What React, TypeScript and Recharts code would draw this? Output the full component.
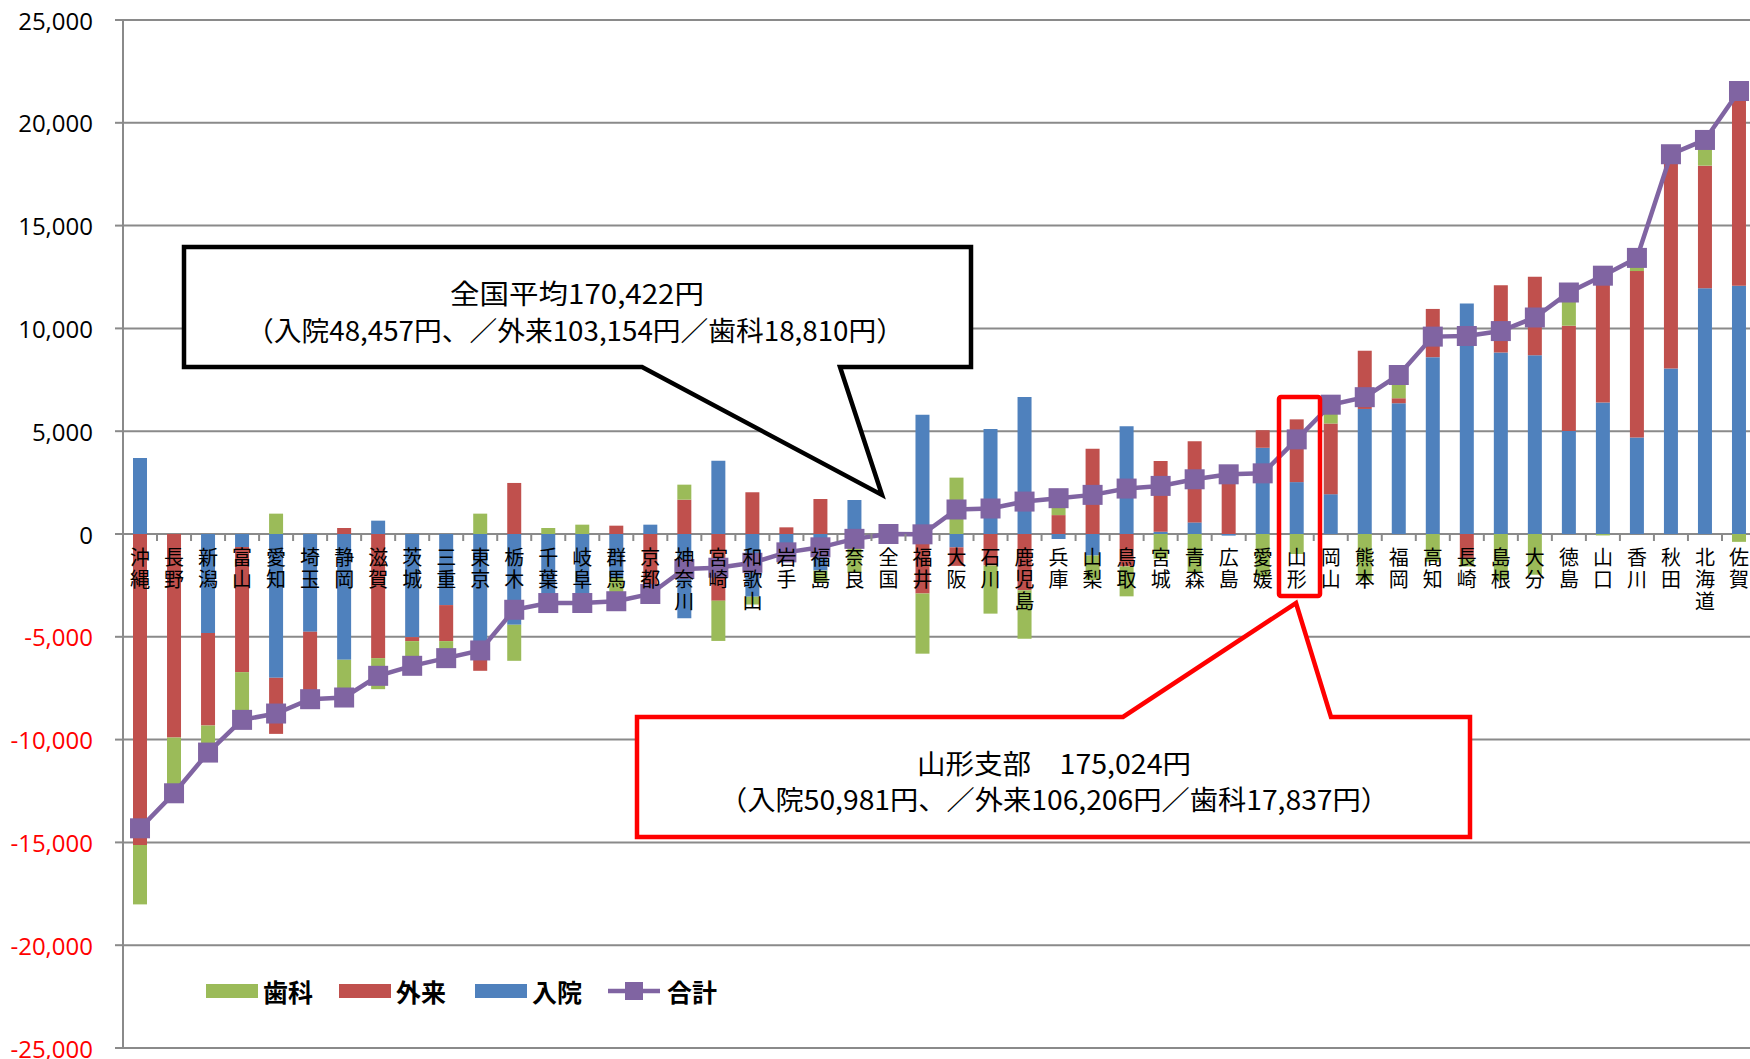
import { ComposedChart, Bar, Line, XAxis, YAxis, CartesianGrid } from 'recharts';

// 都道府県別 一人当たり医療費の全国平均との差（円）
const prefectures = [
  '沖縄', '長野', '新潟', '富山', '愛知', '埼玉', '静岡', '滋賀', '茨城', '三重', '東京', '栃木',
  '千葉', '岐阜', '群馬', '京都', '神奈川', '宮崎', '和歌山', '岩手', '福島', '奈良', '全国', '福井',
  '大阪', '石川', '鹿児島', '兵庫', '山梨', '鳥取', '宮城', '青森', '広島', '愛媛', '山形', '岡山',
  '熊本', '福岡', '高知', '長崎', '島根', '大分', '徳島', '山口', '香川', '秋田', '北海道', '佐賀',
];

const nyuin = [
  3700, 0, -4820, -633, -6995, -4755, -6119, 649, -5015, -3457, -5400, -4415,
  -3500, -3500, -2110, 454, -4102, 3561, -3050, -1216, -1780, 1654, 0, 5805,
  -650, 5113, 6666, -242, -1048, 5242, 113, 565, -80, 4194, 2524, 1936,
  6082, 6360, 8601, 11208, 8827, 8688, 5004, 6394, 4692, 8045, 11955, 12076,
];

const gairai = [
  -15126, -9900, -4496, -6086, -2727, -3150, 292, -6038, -195, -1753, -1254, 2483,
  -150, -310, 405, -3372, 1670, -3243, 2030, 324, 1702, 0, 0, -2894,
  -900, -1532, -2732, 919, 4145, -1573, 3436, 3952, 2983, 855, 3052, 3436,
  2832, 243, 2346, -1164, 3267, 3823, 5126, 6240, 8097, 10400, 5960, 9852,
];

const shika = [
  -2889, -2711, -1315, -2321, 990, -130, -2126, -1509, -1201, -828, 990, -1753,
  292, 454, -1565, 0, 730, -1958, -380, 0, -570, -1890, 0, -2927,
  2742, -2341, -2357, 1065, -1194, -1459, -1210, -1856, 0, -2099, -973, 918,
  -2259, 1130, -1347, -414, -2224, -1981, 1616, -70, 640, 26, 1251, -382,
];

const total = [
  -14315, -12611, -10631, -9040, -8732, -8035, -7953, -6898, -6411, -6038, -5664, -3685,
  -3358, -3356, -3270, -2918, -1702, -1640, -1400, -892, -648, -236, 0, -16,
  1192, 1240, 1577, 1742, 1903, 2210, 2339, 2661, 2903, 2950, 4602, 6290,
  6655, 7733, 9600, 9630, 9870, 10530, 11746, 12564, 13429, 18471, 19166, 21546,
];

const yTicks = [-25000, -20000, -15000, -10000, -5000, 0, 5000, 10000, 15000, 20000, 25000];

const data = prefectures.map((name, i) => ({
  name,
  nyuin: nyuin[i],
  gairai: gairai[i],
  shika: shika[i],
  total: total[i],
}));

const W = 1756;
const H = 1059;
const MARGIN = { top: 20, right: 0, bottom: 0, left: 0 };
const Y_AXIS_W = 123;
const X_AXIS_H = 11;
const PLOT_H = H - MARGIN.top - MARGIN.bottom - X_AXIS_H;
const ZERO_Y = MARGIN.top + PLOT_H / 2;
const BAND = (W - Y_AXIS_W - MARGIN.right) / prefectures.length;

const GREEN = '#9BBB59';
const RED = '#C0504D';
const BLUE = '#4F81BD';
const PURPLE = '#8064A2';
const GRID = '#8a8a8a';
const JP = "'Noto Sans CJK JP', sans-serif";

const YTick = ({ x, y, payload }: any) => (
  <text
    x={x}
    y={y}
    textAnchor="end"
    dominantBaseline="central"
    fontSize={24}
    fontFamily="'Open Sans', sans-serif"
    fill={payload.value < 0 ? '#ff0000' : '#000'}
  >
    {payload.value.toLocaleString('en-US')}
  </text>
);

const XTick = ({ x, payload }: any) => {
  const chars = Array.from(String(payload.value));
  return (
    <g>
      <line x1={x - BAND / 2} x2={x - BAND / 2} y1={ZERO_Y} y2={ZERO_Y + 7} stroke={GRID} strokeWidth={2} />
      <text textAnchor="middle" fontSize={20} fontFamily={JP} fill="#000">
        {chars.map((c, i) => (
          <tspan key={i} x={x} y={ZERO_Y + 31 + i * 22}>
            {c}
          </tspan>
        ))}
      </text>
    </g>
  );
};

const SquareDot = (props: any) => {
  const { cx, cy, index } = props;
  return <rect key={`sq-${index}`} x={cx - 10} y={cy - 10} width={20} height={20} fill={PURPLE} />;
};

const Overlay = () => (
  <svg width={1750} height={1059} style={{ position: 'absolute', left: 0, top: 0, pointerEvents: 'none' }}>
    {/* 全国平均の吹き出し */}
    <path
      d="M184,247 L971,247 L971,367 L840,367 L882,495 L642,367 L184,367 Z"
      fill="#fff"
      stroke="#000"
      strokeWidth={4.5}
    />
    <text x={577} y={292} textAnchor="middle" dominantBaseline="central" fontSize={27} fontFamily={JP} textLength={254} lengthAdjust="spacingAndGlyphs">
      全国平均170,422円
    </text>
    <text x={575} y={329} textAnchor="middle" dominantBaseline="central" fontSize={27} fontFamily={JP} textLength={658} lengthAdjust="spacingAndGlyphs">
      （入院48,457円、／外来103,154円／歯科18,810円）
    </text>

    {/* 山形の吹き出し */}
    <rect x={1279} y={397} width={41} height={199} rx={2} fill="none" stroke="#ff0000" strokeWidth={4.5} />
    <path
      d="M637,717 L1123,717 L1296,603 L1331,717 L1470,717 L1470,837 L637,837 Z"
      fill="#fff"
      stroke="#ff0000"
      strokeWidth={4.5}
    />
    <text x={1054} y={762} textAnchor="middle" dominantBaseline="central" fontSize={27} fontFamily={JP} textLength={274} lengthAdjust="spacingAndGlyphs">
      山形支部　175,024円
    </text>
    <text x={1054} y={798} textAnchor="middle" dominantBaseline="central" fontSize={27} fontFamily={JP} textLength={670} lengthAdjust="spacingAndGlyphs">
      （入院50,981円、／外来106,206円／歯科17,837円）
    </text>

    {/* 凡例 */}
    <rect x={206} y={984} width={52} height={14} fill={GREEN} />
    <text x={263} y={991} dominantBaseline="central" fontSize={25} fontWeight={700} fontFamily={JP}>歯科</text>
    <rect x={339} y={984} width={52} height={14} fill={RED} />
    <text x={396} y={991} dominantBaseline="central" fontSize={25} fontWeight={700} fontFamily={JP}>外来</text>
    <rect x={475} y={984} width={52} height={14} fill={BLUE} />
    <text x={532} y={991} dominantBaseline="central" fontSize={25} fontWeight={700} fontFamily={JP}>入院</text>
    <line x1={608} x2={660} y1={991} y2={991} stroke={PURPLE} strokeWidth={4.5} />
    <rect x={625} y={982} width={18} height={18} fill={PURPLE} />
    <text x={667} y={991} dominantBaseline="central" fontSize={25} fontWeight={700} fontFamily={JP}>合計</text>
  </svg>
);

export default function App() {
  return (
    <div style={{ position: 'absolute', left: 0, top: 0, width: 1750, height: 1059, overflow: 'hidden', background: '#fff' }}>
      <ComposedChart width={W} height={H} data={data} margin={MARGIN} stackOffset="sign">
        <CartesianGrid vertical={false} stroke={GRID} strokeWidth={2} />
        <XAxis
          dataKey="name"
          height={X_AXIS_H}
          interval={0}
          axisLine={false}
          tickLine={false}
          tick={<XTick />}
        />
        <YAxis
          width={Y_AXIS_W}
          domain={[-25000, 25000]}
          ticks={yTicks}
          interval={0}
          tickSize={8}
          tickMargin={22}
          axisLine={{ stroke: GRID, strokeWidth: 2 }}
          tickLine={{ stroke: GRID, strokeWidth: 2 }}
          tick={<YTick />}
        />
        <Bar dataKey="nyuin" name="入院" stackId="a" fill={BLUE} barSize={14} isAnimationActive={false} />
        <Bar dataKey="gairai" name="外来" stackId="a" fill={RED} barSize={14} isAnimationActive={false} />
        <Bar dataKey="shika" name="歯科" stackId="a" fill={GREEN} barSize={14} isAnimationActive={false} />
        <Line
          dataKey="total"
          name="合計"
          type="linear"
          stroke={PURPLE}
          strokeWidth={4.5}
          dot={SquareDot}
          activeDot={false}
          isAnimationActive={false}
        />
      </ComposedChart>
      <Overlay />
    </div>
  );
}
